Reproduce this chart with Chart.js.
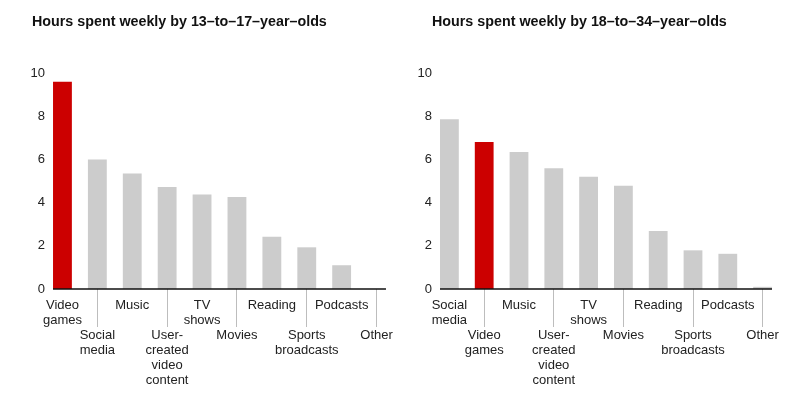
<!DOCTYPE html>
<html>
<head>
<meta charset="utf-8">
<script src="https://cdn.jsdelivr.net/npm/chart.js@4.4.0/dist/chart.umd.min.js"></script>
<style>
body { margin: 0; background: #fff; }
.panel { position: absolute; top: 0; width: 400px; height: 396px; }
.title { position: absolute; left: 32px; top: 13px; font: bold 14.3px 'Liberation Sans', Arial, sans-serif; color: #111; line-height: 17px; white-space: nowrap; }
</style>
</head>
<body>
<div class="panel" style="left:0"><div class="title">Hours spent weekly by 13–to–17–year–olds</div><canvas id="teens"></canvas></div>
<div class="panel" style="left:400px"><div class="title">Hours spent weekly by 18–to–34–year–olds</div><canvas id="adults"></canvas></div>
<script>
// data (hours per week)
var teenCategories = [['Video', 'games'], ['Social', 'media'], ['Music'], ['User-', 'created', 'video', 'content'], ['TV', 'shows'], ['Movies'], ['Reading'], ['Sports', 'broadcasts'], ['Podcasts'], ['Other']];
var teenHours = [9.6, 6.0, 5.35, 4.72, 4.38, 4.26, 2.42, 1.93, 1.1, 0];
var teenHighlight = 'Video';

var adultCategories = [['Social', 'media'], ['Video', 'games'], ['Music'], ['User-', 'created', 'video', 'content'], ['TV', 'shows'], ['Movies'], ['Reading'], ['Sports', 'broadcasts'], ['Podcasts'], ['Other']];
var adultHours = [7.86, 6.8, 6.34, 5.59, 5.2, 4.78, 2.69, 1.79, 1.63, 0.1];
var adultHighlight = 'Video';

var yMin = 0, yMax = 10, yStep = 2;

var FONT = "'Liberation Sans', Arial, sans-serif";

// black axis line from first bar to last bar
var baseline = {
    id: 'baseline',
    afterDatasetsDraw: function(chart) {
        var bars = chart.getDatasetMeta(0).data;
        var first = bars[0], last = bars[bars.length - 1];
        var y = chart.scales.y.getPixelForValue(0);
        var ctx = chart.ctx;
        ctx.save();
        ctx.strokeStyle = '#111';
        ctx.lineWidth = 1.5;
        ctx.beginPath();
        ctx.moveTo(first.x - first.width / 2, y);
        ctx.lineTo(last.x + last.width / 2, y);
        ctx.stroke();
        ctx.restore();
    }
};

function makeChart(id, categories, hours, highlight, yWidth, rightPad) {
    var ctx = document.getElementById(id).getContext('2d');
    return new Chart(ctx, {
        type: 'bar',
        data: {
            labels: categories,
            datasets: [{
                data: hours,
                backgroundColor: categories.map(function(c) { return c[0] === highlight ? '#cc0000' : '#cccccc'; }),
                barPercentage: 0.54,
                categoryPercentage: 1
            }]
        },
        options: {
            responsive: true,
            maintainAspectRatio: false,
            animation: false,
            layout: { padding: { left: 0, right: rightPad, top: 73, bottom: 0 } },
            plugins: {
                legend: { display: false },
                tooltip: { enabled: false }
            },
            scales: {
                x: {
                    offset: true,
                    border: { display: false },
                    grid: {
                        offset: false,
                        drawOnChartArea: false,
                        tickLength: 38,
                        tickWidth: 1,
                        tickColor: function(c) { return c.index % 2 ? '#bdbdbd' : 'rgba(0,0,0,0)'; }
                    },
                    ticks: {
                        autoSkip: false,
                        maxRotation: 0,
                        minRotation: 0,
                        padding: -29,
                        color: '#222',
                        font: { family: FONT, size: 13, lineHeight: '15px' },
                        callback: function(value, index) {
                            var lines = this.getLabelForValue(value);
                            return index % 2 ? ['', ''].concat(lines) : lines;
                        }
                    },
                    afterFit: function(scale) { scale.height = 107; }
                },
                y: {
                    min: yMin,
                    max: yMax,
                    border: { display: false },
                    grid: { display: false, drawTicks: false },
                    ticks: {
                        stepSize: yStep,
                        padding: 0,
                        color: '#222',
                        font: { family: FONT, size: 13 }
                    },
                    afterFit: function(scale) { scale.width = yWidth; }
                }
            }
        },
        plugins: [baseline]
    });
}

makeChart('teens', teenCategories, teenHours, teenHighlight, 45, 6);
makeChart('adults', adultCategories, adultHours, adultHighlight, 32, 20);
</script>
</body>
</html>
